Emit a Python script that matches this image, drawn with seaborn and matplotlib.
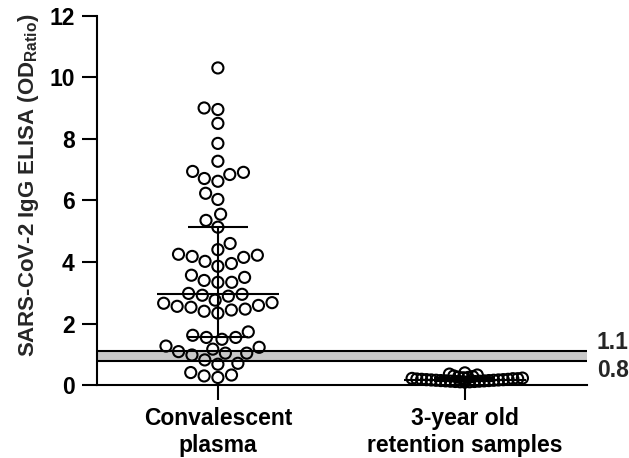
import numpy as np
import pandas as pd
import matplotlib
matplotlib.use("Agg")
import matplotlib.pyplot as plt
import seaborn as sns


GROUPS = ["Convalescent\nplasma", "3-year old\nretention samples"]

# OD ratio per sample
CONVALESCENT = [
    10.3, 9.0, 8.95, 8.5, 7.85, 7.27, 6.94, 6.84, 6.71, 6.91, 6.62, 6.23,
    6.03, 5.55, 5.35, 5.13, 4.6, 4.4, 4.25, 4.18, 4.15, 4.22, 4.02, 3.95,
    3.86, 3.34, 3.4, 3.5, 3.34, 3.57, 2.95, 2.98, 2.89, 2.92, 2.56, 2.66,
    2.34, 2.53, 2.59, 2.40, 2.47, 2.44, 2.68, 2.76, 1.62, 1.55, 1.55, 1.49,
    1.73, 1.27, 1.17, 1.04, 1.04, 1.09, 0.98, 1.23, 0.82, 0.68, 0.71, 0.41,
    0.33, 0.30, 0.25,
]
RETENTION = [
    0.28, 0.15, 0.21, 0.12, 0.18, 0.33, 0.14, 0.19, 0.11, 0.24, 0.16, 0.40,
    0.13, 0.20, 0.17, 0.26, 0.12, 0.22, 0.15, 0.36, 0.18, 0.10, 0.23, 0.14,
    0.30, 0.19, 0.13, 0.25, 0.16, 0.11, 0.21, 0.17,
]

CUTOFF_LOW = 0.8
CUTOFF_HIGH = 1.1
Y_TICKS = [0, 2, 4, 6, 8, 10, 12]

MARKER = 8
FONT = 16.5

sns.set_theme(style="ticks")
plt.rcParams["font.family"] = ["Liberation Sans", "DejaVu Sans"]
plt.rcParams["font.weight"] = "bold"
plt.rcParams["mathtext.fontset"] = "custom"
plt.rcParams["mathtext.rm"] = "Liberation Sans"
plt.rcParams["mathtext.it"] = "Liberation Sans:italic"
plt.rcParams["mathtext.bf"] = "Liberation Sans:bold"

df = pd.DataFrame({
    "group": [GROUPS[0]] * len(CONVALESCENT) + [GROUPS[1]] * len(RETENTION),
    "value": CONVALESCENT + RETENTION,
})

fig = plt.figure(figsize=(6.29, 4.58), dpi=100)
ax = fig.add_axes([0.154, 0.159, 0.779, 0.807])

# cut-off band
ax.axhspan(CUTOFF_LOW, CUTOFF_HIGH, color="#c8c8c8", lw=0, zorder=0)
for lvl in (CUTOFF_LOW, CUTOFF_HIGH):
    ax.axhline(lvl, color="black", lw=1.5, zorder=1)


def swarm(group, size):
    """Swarm one group, return its point collection (drop seaborn's empty ones)."""
    n0 = len(ax.collections)
    sns.swarmplot(data=df[df.group == group], x="group", y="value",
                  order=GROUPS, size=size, color="black", linewidth=1.5, ax=ax)
    new = list(ax.collections[n0:])
    pts = [c for c in new if len(c.get_offsets())][0]
    for c in new:
        if c is not pts:
            c.remove()
    pts.set_facecolor("none")
    pts.set_edgecolor("black")
    pts.set_zorder(2)
    return pts


conv_pts = swarm(GROUPS[0], MARKER)
# retention samples overlap heavily in the original -> lay out small, grow later
ret_pts = swarm(GROUPS[1], 1.8)

# median + interquartile range (GraphPad style quartiles)
for i, g in enumerate(GROUPS):
    vals = df.loc[df.group == g, "value"].to_numpy()
    q1, med, q3 = np.percentile(vals, [25, 50, 75], method="weibull")
    ax.hlines(med, i - 0.247, i + 0.247, color="black", lw=1.5, zorder=3)
    ax.hlines([q1, q3], i - 0.123, i + 0.123, color="black", lw=1.5, zorder=3)
    ax.vlines(i, q1, q3, color="black", lw=1.5, zorder=3)

ax.set_xlim(-0.49, 1.494)
ax.set_ylim(0, 12)
ax.set_yticks(Y_TICKS)
ax.set_xlabel("")
ax.set_ylabel(r"SARS-CoV-2 IgG ELISA (OD$_{\mathrm{Ratio}}$)",
              fontsize=16, fontweight="bold", labelpad=6)
ax.yaxis.label.set_y(0.54)
ax.tick_params(direction="out", length=11, width=1.5, labelsize=FONT, pad=5,
               color="black", labelcolor="black")
for lab in ax.get_xticklabels() + ax.get_yticklabels():
    lab.set_fontweight("bold")
sns.despine(ax=ax)
for side in ("left", "bottom"):
    ax.spines[side].set_linewidth(1.5)
    ax.spines[side].set_color("black")

ax.annotate(f"{CUTOFF_HIGH}", xy=(1.02, CUTOFF_HIGH), xycoords=("axes fraction", "data"),
            xytext=(0, 6), textcoords="offset points", ha="left", va="center",
            fontsize=FONT, fontweight="bold", annotation_clip=False)
ax.annotate(f"{CUTOFF_LOW}", xy=(1.02, CUTOFF_LOW), xycoords=("axes fraction", "data"),
            xytext=(0, -7), textcoords="offset points", ha="left", va="center",
            fontsize=FONT, fontweight="bold", annotation_clip=False)

# run the swarm layout once, then freeze retention points and enlarge them
fig.canvas.draw()
del ret_pts.draw
ret_pts.set_sizes([MARKER ** 2])
ret_pts.set_clip_on(False)

fig.savefig("out.png", dpi=100)
